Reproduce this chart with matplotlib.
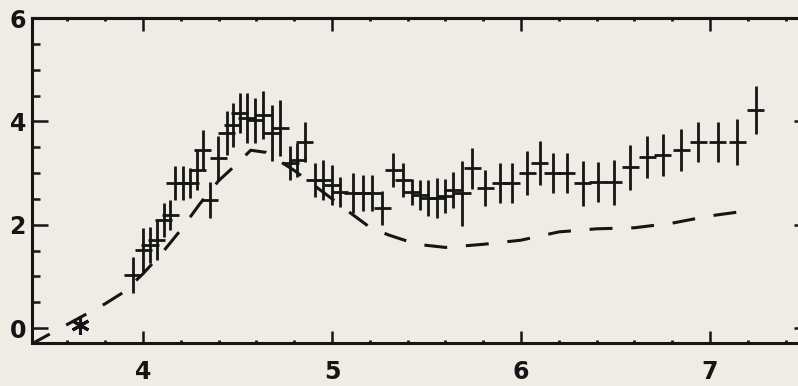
import matplotlib.pyplot as plt
from matplotlib.ticker import MultipleLocator

# measured points (bin centre, value, half error)
x = [3.947, 4.000, 4.037, 4.074, 4.111, 4.143, 4.169, 4.212, 4.249, 4.286,
     4.317, 4.354, 4.397, 4.444, 4.476, 4.513, 4.550, 4.593, 4.635, 4.683,
     4.725, 4.778, 4.815, 4.857, 4.910, 4.952, 5.000, 5.042, 5.111, 5.164,
     5.212, 5.265, 5.323, 5.376, 5.423, 5.466, 5.508, 5.556, 5.598, 5.640,
     5.688, 5.741, 5.810, 5.889, 5.952, 6.032, 6.100, 6.169, 6.243, 6.328,
     6.407, 6.492, 6.577, 6.667, 6.751, 6.847, 6.937, 7.042, 7.143, 7.243]
y = [1.03, 1.51, 1.61, 1.70, 2.09, 2.19, 2.80, 2.80, 2.80, 3.06,
     3.44, 2.48, 3.29, 3.77, 3.93, 4.16, 4.06, 4.02, 4.12, 3.77,
     3.87, 3.19, 3.25, 3.60, 2.86, 2.86, 2.77, 2.63, 2.61, 2.61,
     2.61, 2.32, 3.06, 2.86, 2.63, 2.57, 2.51, 2.51, 2.55, 2.67,
     2.61, 3.09, 2.71, 2.80, 2.80, 3.00, 3.19, 3.00, 3.00, 2.80,
     2.82, 2.82, 3.11, 3.31, 3.35, 3.44, 3.60, 3.60, 3.60, 4.22]
yerr = [0.35, 0.43, 0.35, 0.39, 0.33, 0.29, 0.33, 0.33, 0.29, 0.39,
        0.39, 0.35, 0.43, 0.43, 0.43, 0.39, 0.48, 0.43, 0.46, 0.54,
        0.54, 0.33, 0.33, 0.39, 0.33, 0.39, 0.39, 0.29, 0.39, 0.35,
        0.35, 0.33, 0.33, 0.33, 0.25, 0.29, 0.35, 0.39, 0.33, 0.35,
        0.63, 0.39, 0.35, 0.39, 0.39, 0.43, 0.43, 0.39, 0.39, 0.43,
        0.39, 0.43, 0.43, 0.41, 0.41, 0.41, 0.39, 0.39, 0.45, 0.46]
xerr = 0.045

# model curve (dashed)
model_x = [3.40, 3.60, 3.80, 3.90, 4.00, 4.10, 4.20, 4.30, 4.40, 4.48, 4.57,
           4.65, 4.80, 5.00, 5.10, 5.20, 5.30, 5.45, 5.60, 5.80, 6.00, 6.20,
           6.40, 6.60, 6.80, 7.00, 7.16]
model_y = [-0.33, 0.07, 0.47, 0.70, 1.05, 1.45, 1.90, 2.40, 2.85, 3.12, 3.44,
           3.40, 3.05, 2.50, 2.22, 1.95, 1.80, 1.62, 1.56, 1.62, 1.70, 1.86,
           1.92, 1.94, 2.03, 2.17, 2.25]

# single starred point
star_x = [3.667]
star_y = [0.06]

ink = '#151515'
paper = '#efece6'
plt.rcParams['lines.scale_dashes'] = False

fig = plt.figure(figsize=(7.98, 3.86), dpi=100, facecolor=paper)
ax = fig.add_axes([31.5 / 798, 43 / 386, 773 / 798, 325 / 386], facecolor=paper)

ax.plot(model_x, model_y, color=ink, lw=2.2, dashes=(16.5, 13.5))
ax.errorbar(x, y, xerr=xerr, yerr=yerr, fmt='none', ecolor=ink,
            elinewidth=2.0, capsize=0)
ax.plot(star_x, star_y, ls='none', marker=(6, 2, 0), ms=13, mew=2.2, color=ink)

ax.set_xlim(3.41, 7.5)
ax.set_ylim(-0.29, 6)

for s in ax.spines.values():
    s.set_linewidth(2.2)
    s.set_color(ink)

ax.xaxis.set_major_locator(MultipleLocator(1))
ax.xaxis.set_minor_locator(MultipleLocator(0.2))
ax.yaxis.set_major_locator(MultipleLocator(2))
ax.yaxis.set_minor_locator(MultipleLocator(0.5))

ax.tick_params(axis='y', which='major', direction='in', length=11.5, width=1.8,
               color=ink, pad=4, labelsize=17, labelcolor=ink)
ax.tick_params(axis='y', which='minor', direction='in', length=5.5, width=1.8,
               color=ink)
ax.tick_params(axis='x', which='major', direction='in', length=8.5, width=1.8,
               color=ink, pad=12, labelsize=17, labelcolor=ink)
ax.tick_params(axis='x', which='minor', direction='in', length=2.2, width=2.0,
               color=ink)
for lab in ax.get_xticklabels() + ax.get_yticklabels():
    lab.set_fontweight('bold')

top = ax.secondary_xaxis('top')
top.xaxis.set_major_locator(MultipleLocator(1))
top.xaxis.set_minor_locator(MultipleLocator(0.2))
top.tick_params(which='major', direction='in', length=9, width=1.8, color=ink,
                labeltop=False)
top.tick_params(which='minor', direction='in', length=2.2, width=2.0, color=ink)
top.spines['top'].set_linewidth(2.2)

right = ax.secondary_yaxis('right')
right.yaxis.set_major_locator(MultipleLocator(2))
right.yaxis.set_minor_locator(MultipleLocator(0.5))
right.tick_params(which='major', direction='in', length=8, width=1.8, color=ink,
                  labelright=False)
right.tick_params(which='minor', direction='in', length=3, width=2.0, color=ink)

fig.savefig('out.png', dpi=100, facecolor=paper)
